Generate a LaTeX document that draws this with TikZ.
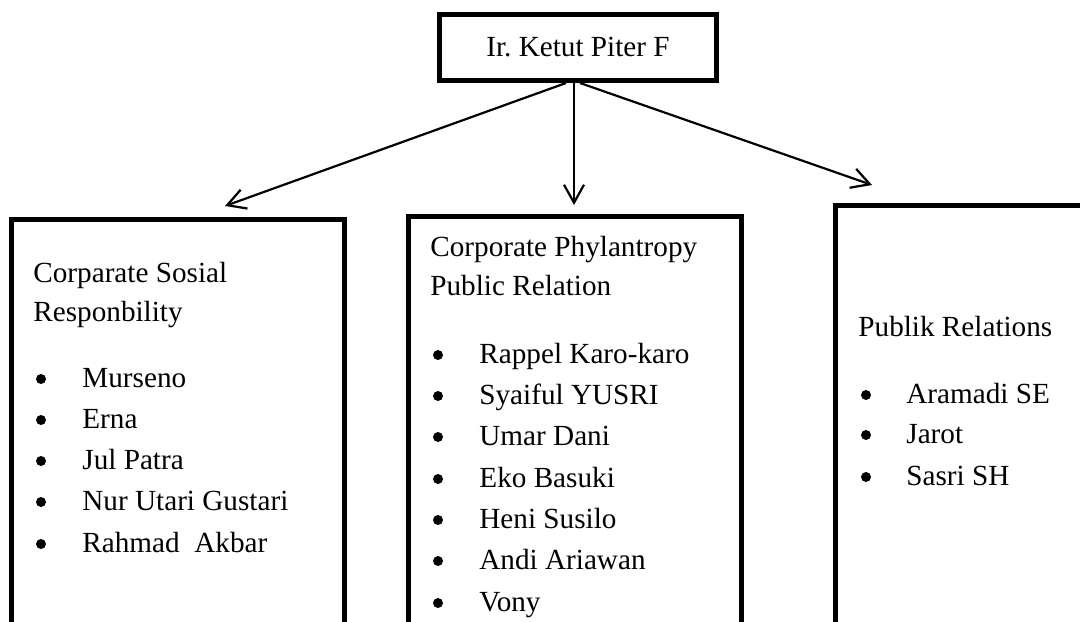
\documentclass[tikz,border=0pt]{standalone}
\usepackage{fontspec}
\setmainfont{Liberation Serif}
\usetikzlibrary{arrows.meta}
\begin{document}
\begin{tikzpicture}[x=0.5pt,y=-0.5pt,
  box/.style={draw,line width=2.5pt,inner sep=0pt,anchor=north west},
  txt/.style={anchor=base west,inner sep=0pt,font=\fontsize{14.6}{17}\selectfont},
  bul/.style={circle,fill,draw=none,inner sep=0pt,minimum size=5pt},
  conn/.style={line width=1.1pt,-{Straight Barb[length=9pt,width=10pt,line width=1.1pt]}}]
\useasboundingbox (0,0) rectangle (1080,621);
\clip (0,0) rectangle (1080,621);
% top box
\node[box,minimum width=138.5pt,minimum height=33pt,font=\fontsize{14.6}{17}\selectfont] (top) at (437,12) {Ir.\ Ketut Piter F};
% lower boxes
\node[box,minimum width=166.5pt,minimum height=250pt] (csr) at (9,217) {};
\node[box,minimum width=166.5pt,minimum height=250pt] (cppr) at (406,214) {};
\node[box,minimum width=150pt,minimum height=250pt] (pr) at (833,203) {};
% arrow ends
\coordinate (s1) at ([xshift=-6pt]top.south);
\coordinate (s2) at ([xshift=-2pt]top.south);
\coordinate (s3) at ([xshift=1pt]top.south);
\coordinate (e1) at (225,206);
\coordinate (e2) at (574,205);
\coordinate (e3) at (872,185);
\draw[conn] (s1) -- (e1);
\draw[conn] (s2) -- (e2);
\draw[conn] (s3) -- (e3);
% left box text
\node[txt] (l1) at (33,282) {Corparate Sosial};
\node[txt] (l2) at (33,321) {Responbility};
\node[bul] (lb1) at (41,379) {}; \node[txt] (li1) at (82,387) {Murseno};
\node[bul] (lb2) at (41,420) {}; \node[txt] (li2) at (82,428) {Erna};
\node[bul] (lb3) at (41,461) {}; \node[txt] (li3) at (82,469) {Jul Patra};
\node[bul] (lb4) at (41,502) {}; \node[txt] (li4) at (82,510) {Nur Utari Gustari};
\node[bul] (lb5) at (41,544) {}; \node[txt] (li5) at (82,552) {Rahmad~~Akbar};
% middle box text
\node[txt] (m1) at (430,256) {Corporate Phylantropy};
\node[txt] (m2) at (430,295) {Public Relation};
\node[bul] (mb1) at (438,355) {}; \node[txt] (mi1) at (479,363) {Rappel Karo-karo};
\node[bul] (mb2) at (438,396) {}; \node[txt] (mi2) at (479,404) {Syaiful YUSRI};
\node[bul] (mb3) at (438,437) {}; \node[txt] (mi3) at (479,445) {Umar Dani};
\node[bul] (mb4) at (438,479) {}; \node[txt] (mi4) at (479,487) {Eko Basuki};
\node[bul] (mb5) at (438,520) {}; \node[txt] (mi5) at (479,528) {Heni Susilo};
\node[bul] (mb6) at (438,561) {}; \node[txt] (mi6) at (479,569) {Andi Ariawan};
\node[bul] (mb7) at (438,603) {}; \node[txt] (mi7) at (479,611) {Vony};
% right box text
\node[txt] (r1) at (858,336) {Publik Relations};
\node[bul] (rb1) at (866,395) {}; \node[txt] (ri1) at (906,403) {Aramadi SE};
\node[bul] (rb2) at (866,435) {}; \node[txt] (ri2) at (906,443) {Jarot};
\node[bul] (rb3) at (866,477) {}; \node[txt] (ri3) at (906,485) {Sasri SH};
\end{tikzpicture}
\end{document}
